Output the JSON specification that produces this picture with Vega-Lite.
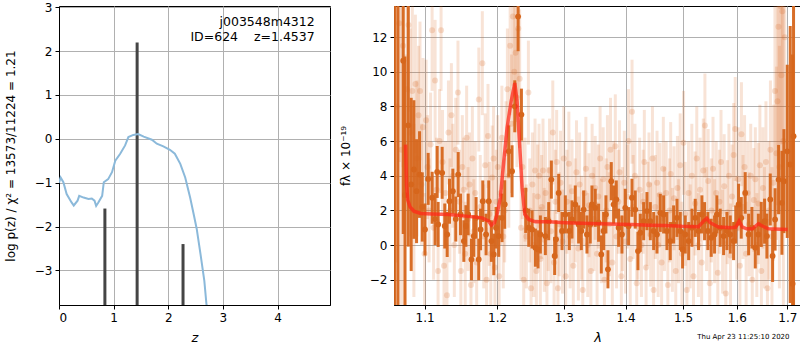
{
"$schema":"https://vega.github.io/schema/vega-lite/v6.json",
"background":"white",
"padding":{"left":3,"top":0,"right":0,"bottom":0},
"spacing":7,
"title":{"text":"Thu Apr 23 11:25:10 2020","orient":"bottom","anchor":"end","fontSize":7,"fontWeight":"normal","font":"DejaVu Sans","color":"black","dx":-12,"dy":-16},
"config":{
 "font":"DejaVu Sans",
 "view":{"stroke":"black","strokeWidth":1},
 "axis":{"grid":true,"gridColor":"#b0b0b0","gridWidth":1,"domainColor":"black","tickColor":"black","tickSize":4,"labelPadding":3,"labelFont":"DejaVu Sans","labelFontSize":12,"labelColor":"black","titleFont":"DejaVu Sans","titleFontSize":12,"titleFontWeight":"normal","titleColor":"black"}
},
"datasets":{
 "pz":[{"z":0,"lp":-1.0},{"z":0.03,"lp":-0.88},{"z":0.08,"lp":-0.99},{"z":0.14,"lp":-1.26},{"z":0.23,"lp":-1.45},{"z":0.27,"lp":-1.52},{"z":0.34,"lp":-1.41},{"z":0.37,"lp":-1.3},{"z":0.45,"lp":-1.34},{"z":0.54,"lp":-1.37},{"z":0.6,"lp":-1.36},{"z":0.65,"lp":-1.41},{"z":0.68,"lp":-1.53},{"z":0.72,"lp":-1.45},{"z":0.79,"lp":-1.3},{"z":0.82,"lp":-0.99},{"z":0.9,"lp":-0.92},{"z":0.97,"lp":-0.76},{"z":1.03,"lp":-0.5},{"z":1.12,"lp":-0.34},{"z":1.21,"lp":-0.15},{"z":1.27,"lp":0.04},{"z":1.36,"lp":0.09},{"z":1.45,"lp":0.11},{"z":1.55,"lp":0.05},{"z":1.7,"lp":-0.02},{"z":1.79,"lp":-0.11},{"z":1.91,"lp":-0.17},{"z":2.03,"lp":-0.25},{"z":2.12,"lp":-0.34},{"z":2.22,"lp":-0.57},{"z":2.31,"lp":-0.88},{"z":2.4,"lp":-1.34},{"z":2.47,"lp":-1.75},{"z":2.52,"lp":-2.05},{"z":2.59,"lp":-2.63},{"z":2.66,"lp":-3.24},{"z":2.7,"lp":-3.79},{"z":2.78,"lp":-4.5}],
 "spikes":[{"z":0.84,"top":-1.59},{"z":1.43,"top":2.2},{"z":2.27,"top":-2.4}],
 "labels":[{"z":4.68,"v":2.66,"t":"j003548m4312"},{"z":4.68,"v":2.32,"t":"ID=624\u00a0\u00a0\u00a0\u00a0z=1.4537"}],
 "model":[{"w":1.0752,"f":5.8},{"w":1.0765,"f":3.5},{"w":1.078,"f":2.6},{"w":1.081,"f":2.2},{"w":1.086,"f":1.95},{"w":1.095,"f":1.82},{"w":1.11,"f":1.8},{"w":1.1326,"f":1.77},{"w":1.1554,"f":1.67},{"w":1.1787,"f":1.57},{"w":1.1881,"f":1.38},{"w":1.1919,"f":1.15},{"w":1.1962,"f":1.29},{"w":1.2,"f":1.77},{"w":1.2048,"f":2.73},{"w":1.2097,"f":4.84},{"w":1.2145,"f":6.76},{"w":1.2204,"f":8.29},{"w":1.2258,"f":9.35},{"w":1.2292,"f":8.29},{"w":1.2327,"f":5.99},{"w":1.2366,"f":3.3},{"w":1.2406,"f":1.77},{"w":1.2465,"f":1.48},{"w":1.2565,"f":1.34},{"w":1.2767,"f":1.34},{"w":1.3025,"f":1.29},{"w":1.3555,"f":1.23},{"w":1.4109,"f":1.19},{"w":1.4394,"f":1.15},{"w":1.4684,"f":1.13},{"w":1.498,"f":1.08},{"w":1.5282,"f":1.06},{"w":1.5374,"f":1.38},{"w":1.5435,"f":1.54},{"w":1.5497,"f":1.29},{"w":1.5652,"f":1.04},{"w":1.5903,"f":1.0},{"w":1.598,"f":1.04},{"w":1.6044,"f":1.38},{"w":1.6108,"f":1.04},{"w":1.6192,"f":0.94},{"w":1.6302,"f":0.94},{"w":1.642,"f":1.23},{"w":1.6499,"f":1.1},{"w":1.6618,"f":0.94},{"w":1.7007,"f":0.9}],
 "dark":[{"w":1.0615,"f":16,"lo":-4,"hi":36},{"w":1.0655,"f":-5,"lo":-25,"hi":15},{"w":1.0722,"f":10.64,"lo":0.64,"hi":20.64},{"w":1.0744,"f":2.88,"lo":-5.12,"hi":10.88},{"w":1.0787,"f":6.91,"lo":-0.09,"hi":13.91},{"w":1.0825,"f":3.5,"lo":-1.5,"hi":8.5},{"w":1.086,"f":4.36,"lo":0.36,"hi":8.36},{"w":1.0895,"f":3.11,"lo":0.11,"hi":6.11},{"w":1.0934,"f":4.07,"lo":1.57,"hi":6.57},{"w":1.097,"f":2.2,"lo":0.2,"hi":4.2},{"w":1.1006,"f":0.9,"lo":-0.6,"hi":2.4},{"w":1.1048,"f":3.82,"lo":2.32,"hi":5.32},{"w":1.1101,"f":2.73,"lo":1.23,"hi":4.23},{"w":1.114,"f":1.5,"lo":0,"hi":3},{"w":1.1168,"f":4.22,"lo":2.72,"hi":5.72},{"w":1.1181,"f":1.19,"lo":-0.11,"hi":2.49},{"w":1.1235,"f":4.17,"lo":2.67,"hi":5.67},{"w":1.127,"f":1.1,"lo":-0.2,"hi":2.4},{"w":1.1303,"f":0.61,"lo":-0.69,"hi":1.91},{"w":1.1334,"f":2.53,"lo":1.23,"hi":3.83},{"w":1.138,"f":3.11,"lo":1.81,"hi":4.41},{"w":1.142,"f":1.5,"lo":0.2,"hi":2.8},{"w":1.1453,"f":4.07,"lo":2.77,"hi":5.37},{"w":1.1485,"f":1.77,"lo":0.57,"hi":2.97},{"w":1.1531,"f":0.23,"lo":-0.97,"hi":1.43},{"w":1.156,"f":1.1,"lo":-0.1,"hi":2.3},{"w":1.1591,"f":1.77,"lo":0.57,"hi":2.97},{"w":1.1637,"f":-0.83,"lo":-2.03,"hi":0.37},{"w":1.1669,"f":0.52,"lo":-0.68,"hi":1.72},{"w":1.1702,"f":1.57,"lo":0.37,"hi":2.77},{"w":1.1739,"f":-0.83,"lo":-2.03,"hi":0.37},{"w":1.1765,"f":0.9,"lo":-0.3,"hi":2.1},{"w":1.1796,"f":2.53,"lo":1.33,"hi":3.73},{"w":1.1843,"f":0.61,"lo":-0.59,"hi":1.81},{"w":1.1881,"f":2.53,"lo":1.33,"hi":3.73},{"w":1.1919,"f":0.23,"lo":-0.97,"hi":1.43},{"w":1.1953,"f":-0.54,"lo":-1.74,"hi":0.66},{"w":1.1986,"f":1.0,"lo":-0.2,"hi":2.2},{"w":1.2024,"f":0.52,"lo":-0.68,"hi":1.72},{"w":1.2072,"f":1.57,"lo":0.17,"hi":2.97},{"w":1.2111,"f":2.34,"lo":0.94,"hi":3.74},{"w":1.2169,"f":5.41,"lo":3.91,"hi":6.91},{"w":1.2218,"f":4.26,"lo":2.76,"hi":5.76},{"w":1.2258,"f":8.01,"lo":6.51,"hi":9.51},{"w":1.2307,"f":13.19,"lo":11.19,"hi":15.19},{"w":1.2356,"f":7.53,"lo":6.03,"hi":9.03},{"w":1.242,"f":2.0,"lo":0.7,"hi":3.3},{"w":1.2465,"f":1.0,"lo":-0.1,"hi":2.1},{"w":1.2515,"f":0.9,"lo":-0.2,"hi":2.0},{"w":1.2565,"f":-0.15,"lo":-1.25,"hi":0.95},{"w":1.2605,"f":-0.25,"lo":-1.35,"hi":0.85},{"w":1.264,"f":0.61,"lo":-0.49,"hi":1.71},{"w":1.2716,"f":0.52,"lo":-0.58,"hi":1.62},{"w":1.2767,"f":1.38,"lo":0.28,"hi":2.48},{"w":1.2808,"f":3.78,"lo":2.68,"hi":4.88},{"w":1.2859,"f":-0.63,"lo":-1.73,"hi":0.47},{"w":1.288,"f":0.33,"lo":-0.77,"hi":1.43},{"w":1.2921,"f":3.01,"lo":1.91,"hi":4.11},{"w":1.2973,"f":0.81,"lo":-0.29,"hi":1.91},{"w":1.3025,"f":1.77,"lo":0.67,"hi":2.87},{"w":1.3087,"f":0.81,"lo":-0.29,"hi":1.91},{"w":1.3129,"f":1.48,"lo":0.38,"hi":2.58},{"w":1.3181,"f":2.34,"lo":1.24,"hi":3.44},{"w":1.3234,"f":1.19,"lo":0.09,"hi":2.29},{"w":1.3277,"f":0.81,"lo":-0.29,"hi":1.91},{"w":1.3314,"f":2.05,"lo":0.95,"hi":3.15},{"w":1.3367,"f":0.61,"lo":-0.49,"hi":1.71},{"w":1.342,"f":1.19,"lo":0.09,"hi":2.29},{"w":1.3447,"f":2.34,"lo":1.24,"hi":3.44},{"w":1.3501,"f":2.15,"lo":1.05,"hi":3.25},{"w":1.3555,"f":1.29,"lo":0.19,"hi":2.39},{"w":1.3599,"f":-0.54,"lo":-1.64,"hi":0.56},{"w":1.3637,"f":0.81,"lo":-0.29,"hi":1.91},{"w":1.3675,"f":1.77,"lo":0.67,"hi":2.87},{"w":1.3708,"f":-1.4,"lo":-2.5,"hi":-0.3},{"w":1.3763,"f":3.69,"lo":2.59,"hi":4.79},{"w":1.3802,"f":2.34,"lo":1.24,"hi":3.44},{"w":1.3846,"f":2.63,"lo":1.53,"hi":3.73},{"w":1.3885,"f":1.0,"lo":-0.1,"hi":2.1},{"w":1.394,"f":0.61,"lo":-0.49,"hi":1.71},{"w":1.3996,"f":2.15,"lo":1.05,"hi":3.25},{"w":1.4052,"f":1.09,"lo":-0.01,"hi":2.19},{"w":1.4109,"f":2.73,"lo":1.63,"hi":3.83},{"w":1.4165,"f":2.05,"lo":0.95,"hi":3.15},{"w":1.4211,"f":-0.35,"lo":-1.45,"hi":0.75},{"w":1.4251,"f":0.71,"lo":-0.39,"hi":1.81},{"w":1.4308,"f":1.38,"lo":0.28,"hi":2.48},{"w":1.4365,"f":1.96,"lo":0.86,"hi":3.06},{"w":1.4423,"f":1.38,"lo":0.28,"hi":2.48},{"w":1.4481,"f":0.81,"lo":-0.29,"hi":1.91},{"w":1.4539,"f":0.61,"lo":-0.49,"hi":1.71},{"w":1.4597,"f":1.86,"lo":0.76,"hi":2.96},{"w":1.4655,"f":1.77,"lo":0.67,"hi":2.87},{"w":1.4714,"f":0.81,"lo":-0.29,"hi":1.91},{"w":1.4773,"f":0.23,"lo":-0.87,"hi":1.33},{"w":1.4832,"f":1.19,"lo":0.09,"hi":2.29},{"w":1.4892,"f":1.57,"lo":0.47,"hi":2.67},{"w":1.4951,"f":0.81,"lo":-0.29,"hi":1.91},{"w":1.4993,"f":-0.25,"lo":-1.35,"hi":0.85},{"w":1.5041,"f":0.61,"lo":-0.49,"hi":1.71},{"w":1.5102,"f":0.23,"lo":-0.87,"hi":1.33},{"w":1.5162,"f":1.0,"lo":-0.1,"hi":2.1},{"w":1.5222,"f":1.57,"lo":0.47,"hi":2.67},{"w":1.5282,"f":0.81,"lo":-0.29,"hi":1.91},{"w":1.5344,"f":1.77,"lo":0.67,"hi":2.87},{"w":1.5393,"f":1.38,"lo":0.28,"hi":2.48},{"w":1.5455,"f":0.81,"lo":-0.29,"hi":1.91},{"w":1.5517,"f":0.42,"lo":-0.68,"hi":1.52},{"w":1.5579,"f":0.61,"lo":-0.49,"hi":1.71},{"w":1.5623,"f":1.77,"lo":0.67,"hi":2.87},{"w":1.5685,"f":1.0,"lo":-0.1,"hi":2.1},{"w":1.5749,"f":0.52,"lo":-0.58,"hi":1.62},{"w":1.5812,"f":0.81,"lo":-0.29,"hi":1.91},{"w":1.5875,"f":0.61,"lo":-0.49,"hi":1.71},{"w":1.5939,"f":0.23,"lo":-0.87,"hi":1.33},{"w":1.598,"f":1.19,"lo":0.09,"hi":2.29},{"w":1.6035,"f":2.34,"lo":1.14,"hi":3.54},{"w":1.6086,"f":1.57,"lo":0.37,"hi":2.77},{"w":1.6163,"f":3.01,"lo":1.81,"hi":4.21},{"w":1.6229,"f":0.61,"lo":-0.59,"hi":1.81},{"w":1.6294,"f":1.0,"lo":-0.2,"hi":2.2},{"w":1.6359,"f":-0.15,"lo":-1.35,"hi":1.05},{"w":1.642,"f":0.61,"lo":-0.59,"hi":1.81},{"w":1.6477,"f":1.19,"lo":-0.11,"hi":2.49},{"w":1.6543,"f":1.38,"lo":0.08,"hi":2.68},{"w":1.6589,"f":0.52,"lo":-0.78,"hi":1.82},{"w":1.6656,"f":2.63,"lo":1.13,"hi":4.13},{"w":1.6703,"f":-0.63,"lo":-2.13,"hi":0.87},{"w":1.6753,"f":1.48,"lo":-0.32,"hi":3.28},{"w":1.6823,"f":3.78,"lo":1.78,"hi":5.78},{"w":1.6891,"f":2.44,"lo":-0.56,"hi":5.44},{"w":1.6931,"f":3.69,"lo":0.69,"hi":6.69},{"w":1.6999,"f":5.41,"lo":0.41,"hi":10.41},{"w":1.706,"f":4.65,"lo":-3.35,"hi":12.65},{"w":1.7108,"f":-2.23,"lo":-15.4,"hi":11},{"w":1.7128,"f":6.28,"lo":-3.72,"hi":16.28}],
 "light":[{"w":1.064,"f":8,"lo":-1,"hi":17},{"w":1.067,"f":12.8,"lo":4.8,"hi":20.8},{"w":1.07,"f":5.5,"lo":-3.5,"hi":14.5},{"w":1.072,"f":11.5,"lo":4.5,"hi":18.5},{"w":1.075,"f":3.0,"lo":-5,"hi":11},{"w":1.077,"f":9.0,"lo":3,"hi":15},{"w":1.079,"f":12.7,"lo":7.7,"hi":17.7},{"w":1.081,"f":6.5,"lo":0.5,"hi":12.5},{"w":1.084,"f":8.9,"lo":3.9,"hi":13.9},{"w":1.086,"f":2.0,"lo":-3,"hi":7},{"w":1.088,"f":9.3,"lo":5.3,"hi":13.3},{"w":1.09,"f":5.0,"lo":0.5,"hi":9.5},{"w":1.092,"f":7.5,"lo":3.5,"hi":11.5},{"w":1.094,"f":8.9,"lo":4.9,"hi":12.9},{"w":1.096,"f":3.5,"lo":0,"hi":7},{"w":1.098,"f":6.8,"lo":2.8,"hi":10.8},{"w":1.1,"f":-0.5,"lo":-4,"hi":3},{"w":1.102,"f":7.2,"lo":3.7,"hi":10.7},{"w":1.104,"f":4.5,"lo":1.5,"hi":7.5},{"w":1.106,"f":2.0,"lo":-1,"hi":5},{"w":1.108,"f":5.8,"lo":2.8,"hi":8.8},{"w":1.11,"f":12.4,"lo":8.9,"hi":15.9},{"w":1.112,"f":1.0,"lo":-2,"hi":4},{"w":1.114,"f":9.5,"lo":6,"hi":13},{"w":1.116,"f":3.2,"lo":0.2,"hi":6.2},{"w":1.118,"f":-1.5,"lo":-4.5,"hi":1.5},{"w":1.12,"f":6.0,"lo":3,"hi":9},{"w":1.122,"f":12.4,"lo":8.9,"hi":15.9},{"w":1.124,"f":4.8,"lo":1.8,"hi":7.8},{"w":1.126,"f":-1.2,"lo":-4.2,"hi":1.8},{"w":1.128,"f":3.0,"lo":0,"hi":6},{"w":1.13,"f":-2.9,"lo":-5.9,"hi":0.1},{"w":1.132,"f":6.5,"lo":3.5,"hi":9.5},{"w":1.134,"f":2.0,"lo":-1,"hi":5},{"w":1.136,"f":7.5,"lo":4.5,"hi":10.5},{"w":1.138,"f":4.0,"lo":1,"hi":7},{"w":1.14,"f":0.0,"lo":-3,"hi":3},{"w":1.142,"f":5.5,"lo":2.5,"hi":8.5},{"w":1.145,"f":8.8,"lo":5.8,"hi":11.8},{"w":1.147,"f":2.5,"lo":-0.5,"hi":5.5},{"w":1.149,"f":-1.5,"lo":-4.5,"hi":1.5},{"w":1.151,"f":4.5,"lo":1.5,"hi":7.5},{"w":1.153,"f":3.2,"lo":0.2,"hi":6.2},{"w":1.155,"f":-0.5,"lo":-3.5,"hi":2.5},{"w":1.157,"f":6.2,"lo":3.2,"hi":9.2},{"w":1.159,"f":1.5,"lo":-1.5,"hi":4.5},{"w":1.161,"f":3.5,"lo":0.5,"hi":6.5},{"w":1.163,"f":-2.3,"lo":-5.3,"hi":0.7},{"w":1.165,"f":5.0,"lo":2,"hi":8},{"w":1.167,"f":0.8,"lo":-2.2,"hi":3.8},{"w":1.169,"f":3.0,"lo":0,"hi":6},{"w":1.171,"f":-1.0,"lo":-4,"hi":2},{"w":1.174,"f":8.4,"lo":5.4,"hi":11.4},{"w":1.176,"f":2.2,"lo":-0.8,"hi":5.2},{"w":1.179,"f":10.5,"lo":7.5,"hi":13.5},{"w":1.181,"f":0.5,"lo":-2.5,"hi":3.5},{"w":1.183,"f":4.6,"lo":1.6,"hi":7.6},{"w":1.185,"f":-2.0,"lo":-5,"hi":1},{"w":1.187,"f":6.3,"lo":3.3,"hi":9.3},{"w":1.189,"f":1.8,"lo":-1.2,"hi":4.8},{"w":1.191,"f":-0.5,"lo":-3.5,"hi":2.5},{"w":1.193,"f":3.9,"lo":0.9,"hi":6.9},{"w":1.195,"f":5.0,"lo":2,"hi":8},{"w":1.197,"f":-1.3,"lo":-4.3,"hi":1.7},{"w":1.199,"f":2.5,"lo":-0.5,"hi":5.5},{"w":1.201,"f":4.5,"lo":1.5,"hi":7.5},{"w":1.203,"f":-1.8,"lo":-4.8,"hi":1.2},{"w":1.205,"f":3.0,"lo":0,"hi":6},{"w":1.207,"f":6.2,"lo":3.2,"hi":9.2},{"w":1.209,"f":0.5,"lo":-2.5,"hi":3.5},{"w":1.211,"f":2.0,"lo":-1,"hi":5},{"w":1.213,"f":5.3,"lo":2.3,"hi":8.3},{"w":1.215,"f":9.0,"lo":5.5,"hi":12.5},{"w":1.217,"f":4.0,"lo":1,"hi":7},{"w":1.219,"f":11.5,"lo":7.5,"hi":15.5},{"w":1.221,"f":7.0,"lo":3,"hi":11},{"w":1.223,"f":13.2,"lo":9.2,"hi":17.2},{"w":1.225,"f":10.0,"lo":6,"hi":14},{"w":1.227,"f":11.1,"lo":7.1,"hi":15.1},{"w":1.229,"f":8.5,"lo":4.5,"hi":12.5},{"w":1.231,"f":12.5,"lo":8.5,"hi":16.5},{"w":1.233,"f":9.6,"lo":5.6,"hi":13.6},{"w":1.235,"f":1.0,"lo":-2,"hi":4},{"w":1.237,"f":4.5,"lo":1.5,"hi":7.5},{"w":1.239,"f":-2.0,"lo":-5,"hi":1},{"w":1.241,"f":3.2,"lo":0.2,"hi":6.2},{"w":1.243,"f":0.5,"lo":-2.5,"hi":3.5},{"w":1.246,"f":8.8,"lo":5.8,"hi":11.8},{"w":1.248,"f":2.0,"lo":-1,"hi":5},{"w":1.25,"f":-2.5,"lo":-5.5,"hi":0.5},{"w":1.252,"f":3.5,"lo":0.5,"hi":6.5},{"w":1.254,"f":0.0,"lo":-3,"hi":3},{"w":1.256,"f":4.3,"lo":1.3,"hi":7.3},{"w":1.258,"f":-1.5,"lo":-4.5,"hi":1.5},{"w":1.26,"f":2.8,"lo":-0.2,"hi":5.8},{"w":1.262,"f":4.0,"lo":1,"hi":7},{"w":1.264,"f":-0.8,"lo":-3.8,"hi":2.2},{"w":1.266,"f":2.2,"lo":-0.8,"hi":5.2},{"w":1.268,"f":4.3,"lo":1.3,"hi":7.3},{"w":1.27,"f":0.3,"lo":-2.7,"hi":3.3},{"w":1.272,"f":3.0,"lo":0,"hi":6},{"w":1.274,"f":-2.2,"lo":-5.2,"hi":0.8},{"w":1.276,"f":1.5,"lo":-1.5,"hi":4.5},{"w":1.278,"f":4.3,"lo":1.3,"hi":7.3},{"w":1.28,"f":0.8,"lo":-2.2,"hi":3.8},{"w":1.283,"f":6.5,"lo":3.5,"hi":9.5},{"w":1.285,"f":-1.0,"lo":-4,"hi":2},{"w":1.287,"f":2.5,"lo":-0.5,"hi":5.5},{"w":1.289,"f":4.8,"lo":1.8,"hi":7.8},{"w":1.291,"f":-2.5,"lo":-5.5,"hi":0.5},{"w":1.293,"f":1.2,"lo":-1.8,"hi":4.2},{"w":1.295,"f":3.6,"lo":0.6,"hi":6.6},{"w":1.298,"f":0.2,"lo":-2.8,"hi":3.2},{"w":1.3,"f":5.0,"lo":2,"hi":8},{"w":1.303,"f":-1.8,"lo":-4.8,"hi":1.2},{"w":1.305,"f":2.5,"lo":-0.5,"hi":5.5},{"w":1.308,"f":4.7,"lo":1.7,"hi":7.7},{"w":1.31,"f":0.5,"lo":-2.5,"hi":3.5},{"w":1.313,"f":3.1,"lo":0.1,"hi":6.1},{"w":1.315,"f":-1.2,"lo":-4.2,"hi":1.8},{"w":1.318,"f":2.0,"lo":-1,"hi":5},{"w":1.32,"f":4.2,"lo":1.2,"hi":7.2},{"w":1.323,"f":-0.2,"lo":-3.2,"hi":2.8},{"w":1.325,"f":3.5,"lo":0.5,"hi":6.5},{"w":1.328,"f":1.0,"lo":-2,"hi":4},{"w":1.33,"f":-2.6,"lo":-5.6,"hi":0.4},{"w":1.333,"f":3.0,"lo":0,"hi":6},{"w":1.335,"f":4.4,"lo":1.4,"hi":7.4},{"w":1.338,"f":0.0,"lo":-3,"hi":3},{"w":1.34,"f":2.3,"lo":-0.7,"hi":5.3},{"w":1.343,"f":-1.5,"lo":-4.5,"hi":1.5},{"w":1.345,"f":4.0,"lo":1,"hi":7},{"w":1.348,"f":1.5,"lo":-1.5,"hi":4.5},{"w":1.35,"f":3.3,"lo":0.3,"hi":6.3},{"w":1.353,"f":-0.5,"lo":-3.5,"hi":2.5},{"w":1.355,"f":2.8,"lo":-0.2,"hi":5.8},{"w":1.358,"f":5.0,"lo":2,"hi":8},{"w":1.36,"f":0.8,"lo":-2.2,"hi":3.8},{"w":1.363,"f":3.8,"lo":0.8,"hi":6.8},{"w":1.365,"f":-2.0,"lo":-5,"hi":1},{"w":1.368,"f":2.0,"lo":-1,"hi":5},{"w":1.37,"f":4.5,"lo":1.5,"hi":7.5},{"w":1.373,"f":1.2,"lo":-1.8,"hi":4.2},{"w":1.375,"f":5.5,"lo":2.5,"hi":8.5},{"w":1.378,"f":-1.0,"lo":-4,"hi":2},{"w":1.38,"f":3.0,"lo":0,"hi":6},{"w":1.383,"f":5.7,"lo":2.7,"hi":8.7},{"w":1.385,"f":0.5,"lo":-2.5,"hi":3.5},{"w":1.388,"f":2.5,"lo":-0.5,"hi":5.5},{"w":1.39,"f":4.2,"lo":1.2,"hi":7.2},{"w":1.393,"f":-1.8,"lo":-4.8,"hi":1.2},{"w":1.395,"f":1.5,"lo":-1.5,"hi":4.5},{"w":1.398,"f":3.6,"lo":0.6,"hi":6.6},{"w":1.4,"f":0.2,"lo":-2.8,"hi":3.2},{"w":1.403,"f":2.8,"lo":-0.2,"hi":5.8},{"w":1.405,"f":6.0,"lo":3,"hi":9},{"w":1.408,"f":-0.8,"lo":-3.8,"hi":2.2},{"w":1.411,"f":7.7,"lo":4.7,"hi":10.7},{"w":1.413,"f":2.2,"lo":-0.8,"hi":5.2},{"w":1.416,"f":4.0,"lo":1,"hi":7},{"w":1.419,"f":-2.2,"lo":-5.2,"hi":0.8},{"w":1.421,"f":1.0,"lo":-2,"hi":4},{"w":1.424,"f":3.2,"lo":0.2,"hi":6.2},{"w":1.427,"f":0.0,"lo":-3,"hi":3},{"w":1.43,"f":2.5,"lo":-0.5,"hi":5.5},{"w":1.432,"f":4.8,"lo":1.8,"hi":7.8},{"w":1.435,"f":-1.3,"lo":-4.3,"hi":1.7},{"w":1.438,"f":1.8,"lo":-1.2,"hi":4.8},{"w":1.44,"f":3.5,"lo":0.5,"hi":6.5},{"w":1.443,"f":0.6,"lo":-2.4,"hi":3.6},{"w":1.446,"f":5.0,"lo":2,"hi":8},{"w":1.448,"f":-2.6,"lo":-5.6,"hi":0.4},{"w":1.451,"f":2.2,"lo":-0.8,"hi":5.2},{"w":1.454,"f":3.6,"lo":0.6,"hi":6.6},{"w":1.456,"f":0.0,"lo":-3,"hi":3},{"w":1.459,"f":2.9,"lo":-0.1,"hi":5.9},{"w":1.462,"f":-1.0,"lo":-4,"hi":2},{"w":1.465,"f":4.4,"lo":1.4,"hi":7.4},{"w":1.467,"f":1.5,"lo":-1.5,"hi":4.5},{"w":1.47,"f":3.0,"lo":0,"hi":6},{"w":1.473,"f":-2.3,"lo":-5.3,"hi":0.7},{"w":1.476,"f":2.0,"lo":-1,"hi":5},{"w":1.478,"f":4.1,"lo":1.1,"hi":7.1},{"w":1.481,"f":0.3,"lo":-2.7,"hi":3.3},{"w":1.484,"f":2.7,"lo":-0.3,"hi":5.7},{"w":1.487,"f":-1.5,"lo":-4.5,"hi":1.5},{"w":1.49,"f":3.3,"lo":0.3,"hi":6.3},{"w":1.492,"f":0.8,"lo":-2.2,"hi":3.8},{"w":1.495,"f":4.6,"lo":1.6,"hi":7.6},{"w":1.498,"f":-0.5,"lo":-3.5,"hi":2.5},{"w":1.501,"f":5.9,"lo":2.9,"hi":8.9},{"w":1.504,"f":1.8,"lo":-1.2,"hi":4.8},{"w":1.507,"f":-2.6,"lo":-5.6,"hi":0.4},{"w":1.51,"f":3.0,"lo":0,"hi":6},{"w":1.513,"f":0.5,"lo":-2.5,"hi":3.5},{"w":1.516,"f":4.0,"lo":1,"hi":7},{"w":1.519,"f":-1.8,"lo":-4.8,"hi":1.2},{"w":1.522,"f":2.4,"lo":-0.6,"hi":5.4},{"w":1.525,"f":5.0,"lo":2,"hi":8},{"w":1.528,"f":0.0,"lo":-3,"hi":3},{"w":1.531,"f":3.2,"lo":0.2,"hi":6.2},{"w":1.534,"f":-1.0,"lo":-4,"hi":2},{"w":1.537,"f":4.3,"lo":1.3,"hi":7.3},{"w":1.54,"f":6.9,"lo":3.9,"hi":9.9},{"w":1.543,"f":1.5,"lo":-1.5,"hi":4.5},{"w":1.546,"f":3.7,"lo":0.7,"hi":6.7},{"w":1.549,"f":-2.2,"lo":-5.2,"hi":0.8},{"w":1.552,"f":2.0,"lo":-1,"hi":5},{"w":1.555,"f":4.4,"lo":1.4,"hi":7.4},{"w":1.558,"f":0.8,"lo":-2.2,"hi":3.8},{"w":1.561,"f":3.0,"lo":0,"hi":6},{"w":1.564,"f":-1.6,"lo":-4.6,"hi":1.4},{"w":1.567,"f":2.5,"lo":-0.5,"hi":5.5},{"w":1.57,"f":4.8,"lo":1.8,"hi":7.8},{"w":1.573,"f":0.2,"lo":-2.8,"hi":3.2},{"w":1.576,"f":3.4,"lo":0.4,"hi":6.4},{"w":1.579,"f":-2.8,"lo":-5.8,"hi":0.2},{"w":1.582,"f":1.9,"lo":-1.1,"hi":4.9},{"w":1.585,"f":4.0,"lo":1,"hi":7},{"w":1.588,"f":-0.6,"lo":-3.6,"hi":2.4},{"w":1.591,"f":2.8,"lo":-0.2,"hi":5.8},{"w":1.594,"f":5.2,"lo":2.2,"hi":8.2},{"w":1.597,"f":6.7,"lo":3.7,"hi":9.7},{"w":1.6,"f":1.0,"lo":-2,"hi":4},{"w":1.603,"f":3.8,"lo":0.8,"hi":6.8},{"w":1.606,"f":-1.2,"lo":-4.2,"hi":1.8},{"w":1.609,"f":6.4,"lo":3.4,"hi":9.4},{"w":1.612,"f":2.2,"lo":-0.8,"hi":5.2},{"w":1.615,"f":4.5,"lo":1.5,"hi":7.5},{"w":1.618,"f":-0.5,"lo":-3.5,"hi":2.5},{"w":1.621,"f":3.0,"lo":0,"hi":6},{"w":1.624,"f":1.2,"lo":-1.8,"hi":4.2},{"w":1.627,"f":4.0,"lo":1,"hi":7},{"w":1.63,"f":-2.0,"lo":-5,"hi":1},{"w":1.633,"f":2.6,"lo":-0.4,"hi":5.6},{"w":1.636,"f":3.8,"lo":0.8,"hi":6.8},{"w":1.639,"f":0.0,"lo":-3,"hi":3},{"w":1.642,"f":2.4,"lo":-1.1,"hi":5.9},{"w":1.645,"f":4.6,"lo":1.1,"hi":8.1},{"w":1.648,"f":-1.5,"lo":-5,"hi":2},{"w":1.651,"f":3.3,"lo":-0.2,"hi":6.8},{"w":1.654,"f":1.0,"lo":-2.5,"hi":4.5},{"w":1.657,"f":4.8,"lo":1.3,"hi":8.3},{"w":1.66,"f":-2.5,"lo":-6.5,"hi":1.5},{"w":1.663,"f":2.0,"lo":-2,"hi":6},{"w":1.666,"f":5.5,"lo":1.5,"hi":9.5},{"w":1.669,"f":0.5,"lo":-3.5,"hi":4.5},{"w":1.672,"f":3.6,"lo":-0.9,"hi":8.1},{"w":1.675,"f":8.9,"lo":3.9,"hi":13.9},{"w":1.678,"f":5.3,"lo":0.3,"hi":10.3},{"w":1.68,"f":8.3,"lo":2.3,"hi":14.3},{"w":1.682,"f":12.6,"lo":5.6,"hi":19.6},{"w":1.684,"f":4.5,"lo":-2.5,"hi":11.5},{"w":1.686,"f":13.8,"lo":5.8,"hi":21.8},{"w":1.688,"f":9.8,"lo":1.8,"hi":17.8},{"w":1.69,"f":13.5,"lo":4.5,"hi":22.5},{"w":1.692,"f":6.0,"lo":-4,"hi":16},{"w":1.695,"f":12.0,"lo":2,"hi":22}]
},
"hconcat":[
 {
  "width":271,"height":299,
  "layer":[
   {"data":{"name":"spikes"},"mark":{"type":"rule","color":"#454545","strokeWidth":3,"clip":true},
    "encoding":{
     "x":{"field":"z","type":"quantitative","scale":{"domain":[0,4.96],"nice":false,"zero":false},"axis":{"values":[0,1,2,3,4],"title":"z","titleFontStyle":"italic","titleFontSize":13,"titlePadding":8}},
     "y":{"field":"top","type":"quantitative","scale":{"domain":[-3.79,3.03],"nice":false,"zero":false},"axis":{"values":[-3,-2,-1,0,1,2,3],"title":"log p(z) / χ² = 13573/11224 = 1.21","titlePadding":17}},
     "y2":{"datum":-5}}},
   {"data":{"name":"pz"},"mark":{"type":"line","color":"#8bb9da","strokeWidth":2,"clip":true},
    "encoding":{"x":{"field":"z","type":"quantitative"},"y":{"field":"lp","type":"quantitative"}}},
   {"data":{"name":"labels"},"mark":{"type":"text","align":"right","baseline":"middle","fontSize":12.5,"color":"black","font":"DejaVu Sans"},
    "encoding":{"x":{"field":"z","type":"quantitative"},"y":{"field":"v","type":"quantitative"},"text":{"field":"t"}}}
  ]
 },
 {
  "width":407,"height":299,
  "layer":[
   {"data":{"name":"light"},"mark":{"type":"rule","color":"#d6661c","opacity":0.18,"strokeWidth":3,"clip":true},
    "encoding":{
     "x":{"field":"w","type":"quantitative","scale":{"type":"log","domain":[1.0604,1.7282],"nice":false,"zero":false},"axis":{"values":[1.1,1.2,1.3,1.4,1.5,1.6,1.7],"format":".1f","title":"λ","titleFontStyle":"italic","titleFontSize":13,"titlePadding":8}},
     "y":{"field":"lo","type":"quantitative","scale":{"domain":[-3.46,13.8],"nice":false,"zero":false},"axis":{"values":[-2,0,2,4,6,8,10,12],"title":"fλ × 10⁻¹⁹","titlePadding":17}},
     "y2":{"field":"hi"}}},
   {"data":{"name":"light"},"mark":{"type":"circle","color":"#d6661c","opacity":0.2,"size":36,"clip":true},
    "encoding":{"x":{"field":"w","type":"quantitative"},"y":{"field":"f","type":"quantitative"}}},
   {"data":{"name":"dark"},"mark":{"type":"rule","color":"#d6661c","opacity":0.95,"strokeWidth":3,"clip":true},
    "encoding":{"x":{"field":"w","type":"quantitative"},"y":{"field":"lo","type":"quantitative"},"y2":{"field":"hi"}}},
   {"data":{"name":"dark"},"mark":{"type":"circle","color":"#d6661c","opacity":1,"size":34,"clip":true},
    "encoding":{"x":{"field":"w","type":"quantitative"},"y":{"field":"f","type":"quantitative"}}},
   {"data":{"name":"model"},"mark":{"type":"line","color":"#ff2a1a","opacity":0.75,"strokeWidth":3.5,"clip":true},
    "encoding":{"x":{"field":"w","type":"quantitative"},"y":{"field":"f","type":"quantitative"}}},
   {"mark":{"type":"rule","color":"black","strokeWidth":2,"strokeDash":[2,3.3],"opacity":0.85},
    "encoding":{"y":{"datum":0}}}
  ]
 }
]
}
